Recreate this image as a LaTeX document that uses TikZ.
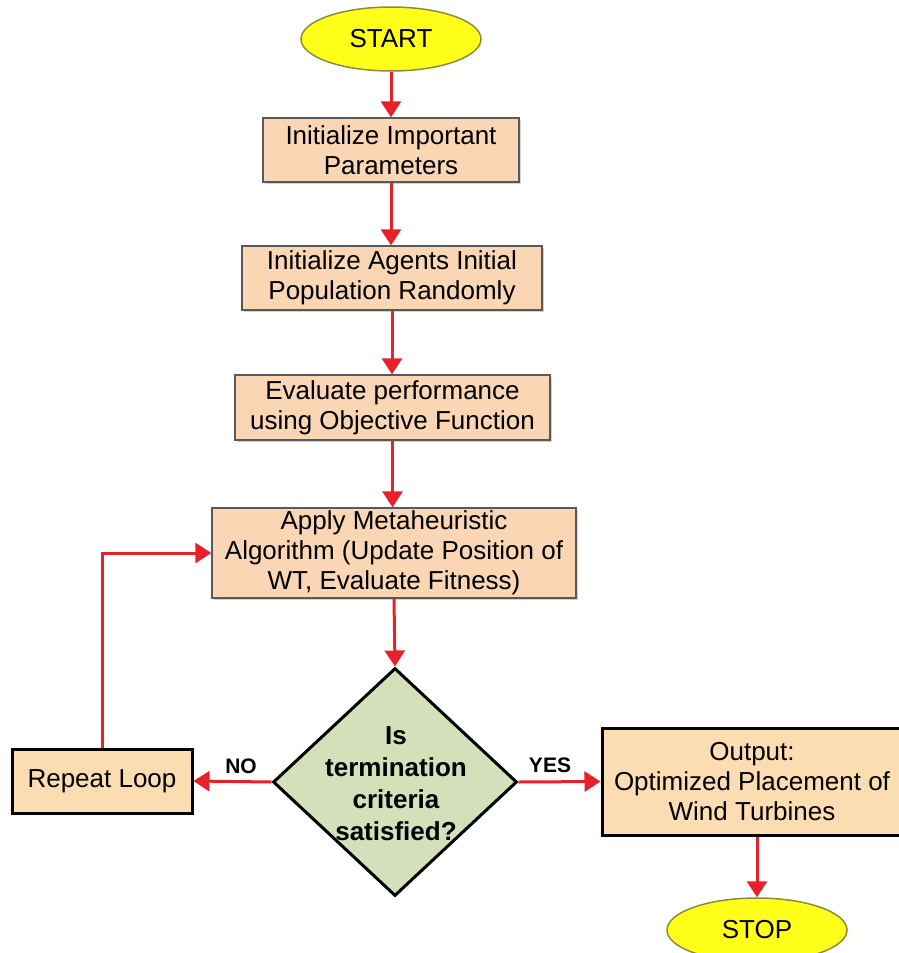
\documentclass[tikz,border=0pt]{standalone}
\usepackage{fontspec}
\setmainfont{Liberation Sans}
\usetikzlibrary{shapes.geometric,arrows.meta,shadows}
\definecolor{peach}{RGB}{250,214,180}
\definecolor{peachb}{RGB}{252,221,178}
\definecolor{dgreen}{RGB}{212,224,186}
\definecolor{yel}{RGB}{255,255,26}
\definecolor{olive}{RGB}{140,140,60}
\definecolor{ared}{RGB}{232,32,42}
\begin{document}
\begin{tikzpicture}[x=1pt,y=-1pt,
  txt/.style={font=\fontsize{26}{30}\selectfont, align=center, inner sep=0pt},
  procbox/.style={txt, rectangle, draw=black!65, line width=1.3pt, fill=peach,
    drop shadow={shadow xshift=2pt, shadow yshift=-2pt, opacity=0.35}},
  boldbox/.style={txt, rectangle, draw=black, line width=3pt, fill=peachb},
  term/.style={txt, ellipse, draw=olive, line width=1.5pt, fill=yel,
    minimum width=180pt, minimum height=64pt},
  flow/.style={draw=ared, line width=3pt, -{Triangle[width=20pt,length=16pt]}},
  lbl/.style={font=\bfseries\fontsize{21}{24}\selectfont, inner sep=0pt}
]
\useasboundingbox (0,0) rectangle (899,953);
\fill[white] (0,0) rectangle (899,953);

\node[term] (start) at (391,39) {START};
\node[procbox, minimum width=256pt, minimum height=64pt] (b1) at (391,150)
  {Initialize Important\\Parameters};
\node[procbox, minimum width=300pt, minimum height=64pt] (b2) at (392,278)
  {Initialize Agents Initial\\Population Randomly};
\node[procbox, minimum width=315pt, minimum height=65pt] (b3) at (392.5,407.5)
  {Evaluate performance\\using Objective Function};
\node[procbox, minimum width=364pt, minimum height=90pt] (b4) at (394,553)
  {Apply Metaheuristic\\Algorithm (Update Position of\\WT, Evaluate Fitness)};
\node[diamond, draw=black, line width=3pt, fill=dgreen, inner sep=0pt,
  minimum width=244pt, minimum height=228pt] (d) at (395,782) {};
\node[font=\bfseries\fontsize{26}{32}\selectfont, align=center, inner sep=0pt]
  (dtext) at (396,784) {Is\\termination\\criteria\\satisfied?};
\node[boldbox, minimum width=180pt, minimum height=64pt] (rl) at (102,781)
  {Repeat Loop};
\node[boldbox, minimum width=300pt, minimum height=107pt] (out) at (752,781.5)
  {Output:\\Optimized Placement of\\Wind Turbines};
\node[term] (stop) at (757,930) {STOP};

\node[lbl] (no) at (241,766) {NO};
\node[lbl] (yes) at (550,765) {YES};

\draw[flow] (start.south) -- (start.south |- b1.north);
\draw[flow] (b1.south) -- (b1.south |- b2.north);
\draw[flow] (b2.south) -- (b2.south |- b3.north);
\draw[flow] (b3.south) -- (b3.south |- b4.north);
\draw[flow] (b4.south) -- (d.north);
\draw[flow] (d.west) -- (rl.east);
\draw[flow] (d.east) -- (out.west);
\draw[flow] (stop.north |- out.south) -- (stop.north);
\draw[flow] (rl.north) |- (b4.west);
\end{tikzpicture}
\end{document}
